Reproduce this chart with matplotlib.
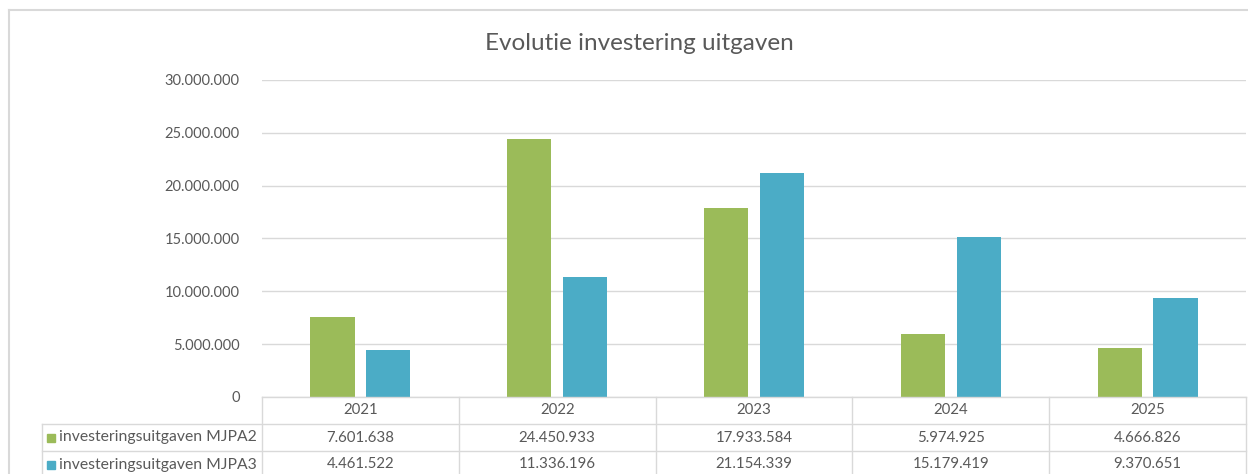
import numpy as np
import matplotlib.pyplot as plt
from matplotlib.lines import Line2D
from matplotlib.patches import Rectangle

plt.rcParams['font.family'] = ['Lato', 'DejaVu Sans']

years = ['2021', '2022', '2023', '2024', '2025']
series_names = ['investeringsuitgaven MJPA2', 'investeringsuitgaven MJPA3']
mjpa2 = [7601638, 24450933, 17933584, 5974925, 4666826]
mjpa3 = [4461522, 11336196, 21154339, 15179419, 9370651]
colors = ['#9BBB59', '#4BACC6']

W, H = 1248, 474
text_col = '#595959'
line_col = '#D9D9D9'


def fmt(v):
    return f'{v:,}'.replace(',', '.')


fig = plt.figure(figsize=(W / 100, H / 100), dpi=100)

# plot area in pixel coords
left, right, top, bottom = 262, 1246, 80, 397
ax = fig.add_axes([left / W, 1 - bottom / H, (right - left) / W, (bottom - top) / H])

x = np.arange(len(years))
bw = 0.225
off = 0.142
ax.bar(x - off, mjpa2, bw, color=colors[0], zorder=3)
ax.bar(x + off, mjpa3, bw, color=colors[1], zorder=3)

ax.set_xlim(-0.5, len(years) - 0.5)
ax.set_ylim(0, 30000000)
ax.set_yticks(np.arange(0, 30000001, 5000000))
ax.set_yticklabels([fmt(v) for v in range(0, 30000001, 5000000)],
                   color=text_col, fontsize=10.5)
ax.tick_params(axis='y', length=0, pad=16)
ax.set_xticks([])
ax.grid(axis='y', color=line_col, linewidth=1, zorder=0)
for s in ax.spines.values():
    s.set_visible(False)


def fx(px):
    return px / W


def fy(py):
    return 1 - py / H


# data table
row_y = [397, 424, 451, 478]
label_left = 42
col_edges = [left + (right - left) * i / len(years) for i in range(len(years) + 1)]

# horizontal lines
fig.add_artist(Line2D([fx(left), fx(right)], [fy(397), fy(397)], color=line_col, lw=1))
for yy in row_y[1:3]:
    fig.add_artist(Line2D([fx(label_left), fx(right)], [fy(yy), fy(yy)], color=line_col, lw=1))
# vertical lines
for xe in col_edges:
    fig.add_artist(Line2D([fx(xe), fx(xe)], [fy(397), fy(H)], color=line_col, lw=1))
fig.add_artist(Line2D([fx(label_left), fx(label_left)], [fy(424), fy(H)], color=line_col, lw=1))

for i, yr in enumerate(years):
    cx = (col_edges[i] + col_edges[i + 1]) / 2
    fig.text(fx(cx), fy(410), yr, ha='center', va='center', color=text_col, fontsize=10.8)
    fig.text(fx(cx), fy(437.5), fmt(mjpa2[i]), ha='center', va='center', color=text_col, fontsize=10.8)
    fig.text(fx(cx), fy(464.5), fmt(mjpa3[i]), ha='center', va='center', color=text_col, fontsize=10.8)

for j, (name, c) in enumerate(zip(series_names, colors)):
    cy = (row_y[j + 1] + row_y[j + 2]) / 2
    fig.add_artist(Rectangle((fx(47), fy(cy + 4)), 8 / W, 8 / H, color=c, transform=fig.transFigure))
    fig.text(fx(59), fy(cy), name, ha='left', va='center', color=text_col, fontsize=11.3)

fig.text(fx(639), fy(43), 'Evolutie investering uitgaven', ha='center', va='center',
         color=text_col, fontsize=17.5)

# outer chart frame (screenshot edge)
fig.add_artist(Line2D([fx(9), fx(1248)], [fy(10), fy(10)], color=line_col, lw=1.5))
fig.add_artist(Line2D([fx(9), fx(9)], [fy(10), fy(H)], color=line_col, lw=1.5))

fig.savefig('out.png', dpi=100, facecolor='white')
